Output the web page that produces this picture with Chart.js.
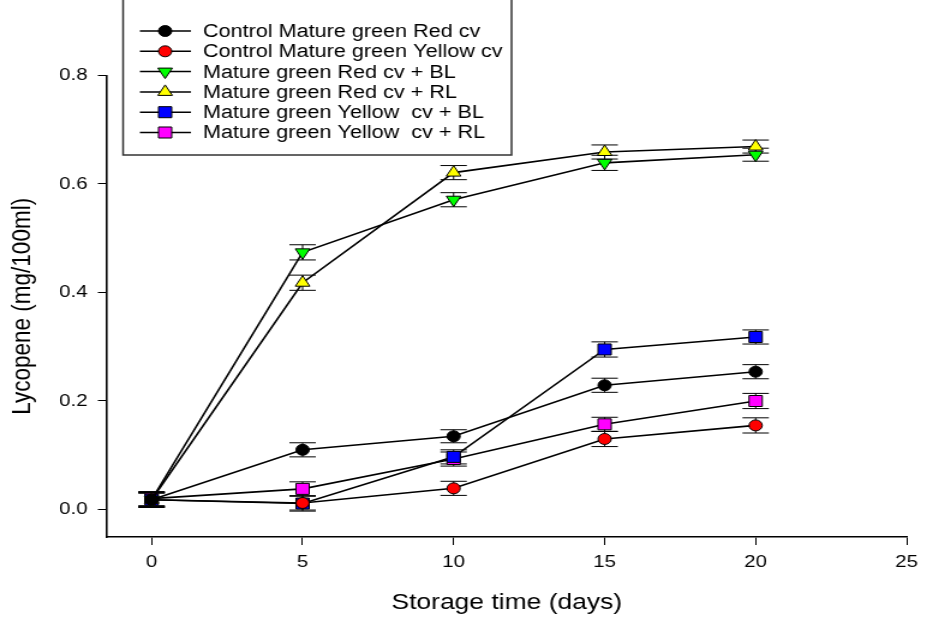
<!DOCTYPE html>
<html>
<head>
<meta charset="utf-8">
<title>Lycopene during storage</title>
<script src="https://cdn.jsdelivr.net/npm/chart.js"></script>
<style>
  html, body { margin: 0; padding: 0; background: #fff; overflow: hidden; }
  /* the plot is drawn narrow and stretched sideways, like the exported figure */
  #wrap { width: 772px; height: 618px; transform: scale(1.2008, 1); transform-origin: 0 0; }
  #lyco { display: block; }
</style>
</head>
<body>
<div id="wrap"><canvas id="lyco" width="772" height="618"></canvas></div>
<script>
// storage days
var days = [0, 5, 10, 15, 20];
var xTicks = [0, 5, 10, 15, 20, 25];
var yTicks = [0, 0.2, 0.4, 0.6, 0.8];

// lycopene (mg/100ml), mean and error
var ctrlRed      = [0.018, 0.110, 0.135, 0.229, 0.254];
var ctrlRedErr   = [0.013, 0.013, 0.012, 0.013, 0.013];
var ctrlYel      = [0.018, 0.012, 0.039, 0.130, 0.155];
var ctrlYelErr   = [0.012, 0.013, 0.013, 0.014, 0.014];
var redBL        = [0.018, 0.474, 0.571, 0.639, 0.654];
var redBLErr     = [0.014, 0.014, 0.013, 0.014, 0.012];
var redRL        = [0.018, 0.418, 0.621, 0.659, 0.669];
var redRLErr     = [0.013, 0.014, 0.013, 0.013, 0.012];
var yelBL        = [0.018, 0.011, 0.097, 0.295, 0.318];
var yelBLErr     = [0.014, 0.014, 0.013, 0.014, 0.013];
var yelRL        = [0.020, 0.038, 0.093, 0.157, 0.200];
var yelRLErr     = [0.013, 0.013, 0.013, 0.013, 0.014];

var seriesNames = [
  'Control Mature green Red cv',
  'Control Mature green Yellow cv',
  'Mature green Red cv + BL',
  'Mature green Red cv + RL',
  'Mature green Yellow  cv + BL',
  'Mature green Yellow  cv + RL'
];

function pts(vals) {
  return vals.map(function (v, i) { return { x: days[i], y: v }; });
}

function series(i, vals, errs, fill, style, rot, r) {
  return {
    label: seriesNames[i],
    data: pts(vals),
    errors: errs,
    borderColor: '#000',
    borderWidth: 1.6,
    backgroundColor: fill,
    pointStyle: style,
    rotation: rot,
    pointRadius: r,
    pointBorderColor: '#000',
    pointBorderWidth: 1,
    pointBackgroundColor: fill,
    tension: 0,
    fill: false
  };
}

// vertical error bars with caps, drawn under the symbols
var errorBars = {
  id: 'errorBars',
  beforeDatasetsDraw: function (chart) {
    var ctx = chart.ctx, ys = chart.scales.y;
    ctx.save();
    ctx.strokeStyle = '#000';
    ctx.lineWidth = 1;
    chart.data.datasets.forEach(function (ds, di) {
      var meta = chart.getDatasetMeta(di);
      meta.data.forEach(function (pt, i) {
        var v = ds.data[i].y, e = ds.errors[i];
        var top = ys.getPixelForValue(v + e), bot = ys.getPixelForValue(v - e);
        var w = 11;
        ctx.beginPath();
        ctx.moveTo(pt.x, top); ctx.lineTo(pt.x, bot);
        ctx.moveTo(pt.x - w, top); ctx.lineTo(pt.x + w, top);
        ctx.moveTo(pt.x - w, bot); ctx.lineTo(pt.x + w, bot);
        ctx.stroke();
      });
    });
    ctx.restore();
  }
};

// boxed legend in the upper left corner
var boxLegend = {
  id: 'boxLegend',
  afterDraw: function (chart) {
    var ctx = chart.ctx;
    var left = 102.5, right = 426, top = -2, bottom = 155;
    ctx.save();
    ctx.fillStyle = '#fff';
    ctx.fillRect(left, top, right - left, bottom - top);
    ctx.strokeStyle = '#333';
    ctx.lineWidth = 1.5;
    ctx.strokeRect(left, top, right - left, bottom - top);
    chart.data.datasets.forEach(function (ds, i) {
      var y = 31 + i * 20.3;
      ctx.strokeStyle = '#000';
      ctx.lineWidth = 1.5;
      ctx.beginPath();
      ctx.moveTo(116.5, y); ctx.lineTo(159, y);
      ctx.stroke();
      ctx.fillStyle = ds.pointBackgroundColor;
      ctx.strokeStyle = '#000';
      ctx.lineWidth = 1;
      Chart.helpers.drawPoint(ctx, {
        pointStyle: ds.pointStyle,
        rotation: ds.rotation,
        radius: ds.pointRadius,
        borderWidth: 1
      }, 137.5, y);
      ctx.fillStyle = '#000';
      ctx.font = '18px Arial, "Liberation Sans", sans-serif';
      ctx.textAlign = 'left';
      ctx.textBaseline = 'middle';
      ctx.fillText(ds.label, 169, y + 1);
    });
    ctx.restore();
  }
};

Chart.defaults.font.family = 'Arial, "Liberation Sans", sans-serif';
Chart.defaults.color = '#000';

new Chart(document.getElementById('lyco').getContext('2d'), {
  type: 'line',
  data: {
    datasets: [
      series(0, ctrlRed, ctrlRedErr, '#000000', 'circle', 0, 5.5),
      series(1, ctrlYel, ctrlYelErr, '#ff0000', 'circle', 0, 5.5),
      series(2, redBL, redBLErr, '#00ff00', 'triangle', 180, 7),
      series(3, redRL, redRLErr, '#ffff00', 'triangle', 0, 7),
      series(4, yelBL, yelBLErr, '#0000ff', 'rect', 0, 7.8),
      series(5, yelRL, yelRLErr, '#ff00ff', 'rect', 0, 7.8)
    ]
  },
  options: {
    responsive: false,
    devicePixelRatio: 1,
    animation: false,
    layout: { padding: { top: 75.5, right: 11, left: 0, bottom: 0 } },
    plugins: {
      legend: { display: false },
      tooltip: { enabled: false }
    },
    scales: {
      x: {
        type: 'linear',
        min: -1.48,
        max: 25,
        afterFit: function (s) { s.height = 81; },
        afterBuildTicks: function (s) { s.ticks = xTicks.map(function (v) { return { value: v }; }); },
        grid: { drawOnChartArea: false, drawTicks: true, tickLength: 8, color: '#000', lineWidth: 1 },
        border: { display: true, color: '#000', width: 1.6 },
        ticks: { font: { size: 17 }, padding: 7.5, maxRotation: 0 },
        title: { display: true, text: 'Storage time (days)', font: { size: 22 }, padding: { top: 0, bottom: 2 } }
      },
      y: {
        type: 'linear',
        min: -0.0507,
        max: 0.8,
        afterFit: function (s) { s.width = 89; },
        afterBuildTicks: function (s) { s.ticks = yTicks.map(function (v) { return { value: v }; }); },
        grid: { drawOnChartArea: false, drawTicks: true, tickLength: 7.5, color: '#000', lineWidth: 1 },
        border: { display: true, color: '#000', width: 1.6 },
        ticks: { font: { size: 17 }, padding: 8.5, callback: function (v) { return Number(v).toFixed(1); } },
        title: { display: true, text: 'Lycopene (mg/100ml)', font: { size: 22.5 }, padding: { top: 5, bottom: 0 } }
      }
    }
  },
  plugins: [errorBars, boxLegend]
});
</script>
</body>
</html>
